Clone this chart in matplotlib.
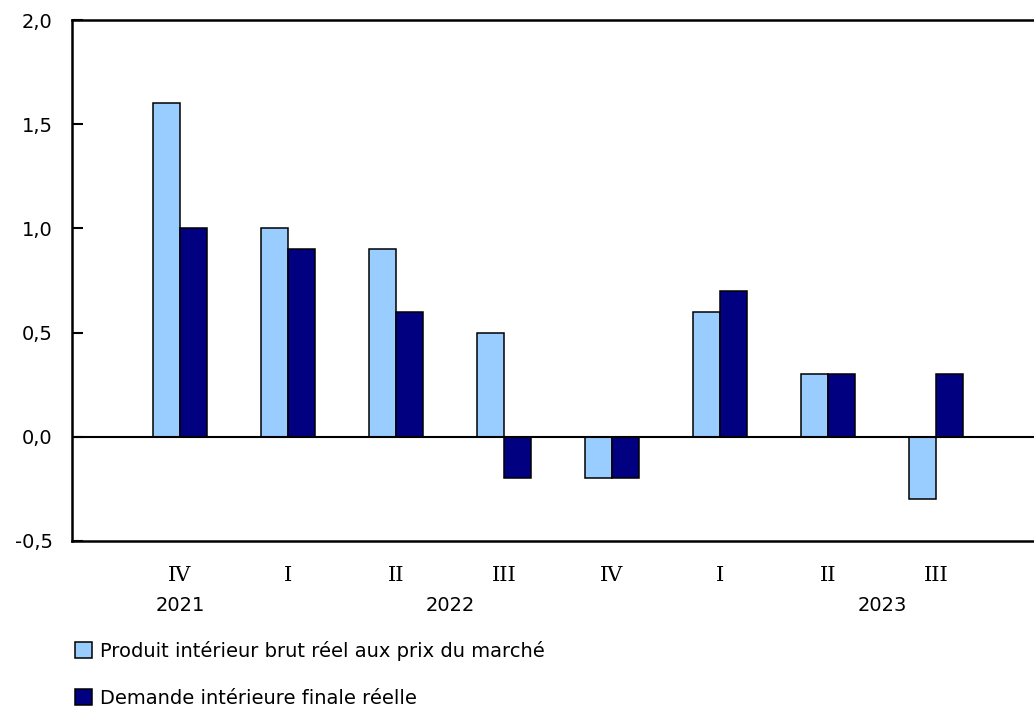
import numpy as np
import matplotlib.pyplot as plt
from matplotlib.transforms import blended_transform_factory

quarters = ["IV", "I", "II", "III", "IV", "I", "II", "III"]
years = ["2021", "2022", "2023"]
year_pos = [0, 2.5, 6.5]
pib = [1.6, 1.0, 0.9, 0.5, -0.2, 0.6, 0.3, -0.3]
demande = [1.0, 0.9, 0.6, -0.2, -0.2, 0.7, 0.3, 0.3]
yticks = [-0.5, 0.0, 0.5, 1.0, 1.5, 2.0]
ytick_labels = ["-0,5", "0,0", "0,5", "1,0", "1,5", "2,0"]

plt.rcParams['font.family'] = ['DejaVu Sans']
fs = 14

fig = plt.figure(figsize=(10.34, 7.09), dpi=100)
ax = fig.add_axes([72 / 1034, (709 - 541) / 709, 1 - 72 / 1034, 521 / 709])

x = np.arange(len(quarters))
w = 0.25
ax.bar(x - w / 2, pib, w, color="#99CCFF", edgecolor="black", linewidth=1.1,
       label="Produit intérieur brut réel aux prix du marché", zorder=2)
ax.bar(x + w / 2, demande, w, color="#000080", edgecolor="black", linewidth=1.1,
       label="Demande intérieure finale réelle", zorder=2)
ax.axhline(0, color="black", linewidth=1.5, zorder=3)

ax.set_xlim(-1, 7.907)
ax.set_ylim(-0.5, 2.0)
ax.set_yticks(yticks)
ax.set_yticklabels(ytick_labels, fontsize=fs)
ax.tick_params(axis="y", direction="in", length=8, width=1.5, pad=14)
ax.set_xticks(x)
ax.set_xticklabels(quarters, fontsize=15, family="DejaVu Serif")
ax.tick_params(axis="x", length=0, pad=18)

for s in ["left", "top", "bottom"]:
    ax.spines[s].set_linewidth(1.8)
ax.spines["right"].set_visible(False)

trans = blended_transform_factory(ax.transData, ax.transAxes)
for yr, pos in zip(years, year_pos):
    ax.text(pos, -0.123, yr, transform=trans, ha="center", va="center", fontsize=fs)

fig.legend(loc="upper left", bbox_to_anchor=(75 / 1034, 1 - 641 / 709),
           frameon=False, fontsize=fs, handlelength=0.875, handleheight=0.875,
           handletextpad=0.4, labelspacing=1.42, borderpad=0, borderaxespad=0)

fig.savefig("out.png", dpi=100)
